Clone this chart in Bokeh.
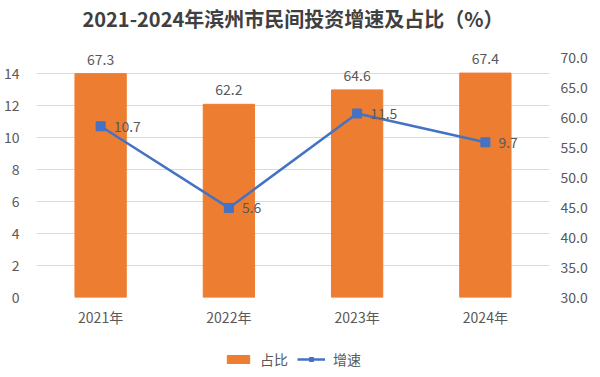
from bokeh.plotting import figure
from bokeh.layouts import column
from bokeh.models import (FactorRange, Range1d, LinearAxis, FixedTicker,
                          NumeralTickFormatter, Legend, LegendItem, ColumnDataSource)
from bokeh.core.properties import value
from bokeh.embed import file_html
from bokeh.resources import INLINE

years = ["2021年", "2022年", "2023年", "2024年"]
share = [67.3, 62.2, 64.6, 67.4]      # 占比 (right axis)
growth = [10.7, 5.6, 11.5, 9.7]       # 增速 (left axis)
left_ticks = [0, 2, 4, 6, 8, 10, 12, 14]
right_ticks = [30, 35, 40, 45, 50, 55, 60, 65, 70]
title_text = "2021-2024年滨州市民间投资增速及占比（%）"
legend_labels = ["占比", "增速"]

ORANGE = "#ED7D31"
BLUE = "#4472C4"
TXT = "#595959"
CJK = "Noto Sans CJK SC"

AXIS_PX = 240
FRAME_H = 263
left_top = 15 * FRAME_H / AXIS_PX
right_top = right_ticks[0] + (right_ticks[-1] - right_ticks[0]) * FRAME_H / AXIS_PX

src = ColumnDataSource(dict(
    x=years, share=share, growth=growth,
    share_lbl=[f"{v:.1f}" for v in share],
    growth_lbl=[f"{v:.1f}" for v in growth],
))

p = figure(x_range=FactorRange(*years), y_range=Range1d(0, left_top),
           frame_width=513, frame_height=FRAME_H,
           output_backend="svg", toolbar_location=None,
           min_border_left=27, min_border_right=37, min_border_top=27,
           min_border_bottom=42)
p.extra_y_ranges = {"right": Range1d(right_ticks[0], right_top)}
p.outline_line_color = None

p.yaxis.ticker = FixedTicker(ticks=left_ticks)
ra = LinearAxis(y_range_name="right", ticker=FixedTicker(ticks=right_ticks),
                formatter=NumeralTickFormatter(format="0.0"))
p.add_layout(ra, "right")
for ax in [p.yaxis[0], ra, p.xaxis[0]]:
    ax.axis_line_color = None
    ax.major_tick_line_color = None
    ax.minor_tick_line_color = None
    ax.major_tick_out = 0
    ax.major_label_text_color = TXT
    ax.major_label_text_font_size = "14px"
    ax.major_label_text_font = CJK
p.yaxis[0].major_label_standoff = 17
ra.major_label_standoff = 11
p.xaxis[0].major_label_standoff = 9

p.xgrid.grid_line_color = None
p.ygrid.ticker = FixedTicker(ticks=left_ticks)
p.ygrid.grid_line_color = "#d9d9d9"
p.ygrid.grid_line_width = 1

bars = p.vbar(x="x", top="share", bottom=right_ticks[0], width=0.4, source=src,
              y_range_name="right", fill_color=ORANGE, line_color=ORANGE)
p.text(x="x", y="share", text="share_lbl", source=src, y_range_name="right",
       y_offset=-9, text_align="center", text_baseline="bottom",
       text_font=value(CJK), text_font_size="14px", text_color=TXT)

p.line(x="x", y="growth", source=src, line_color=BLUE, line_width=2.5)
p.scatter(x="x", y="growth", source=src, marker="square", size=9,
          fill_color=BLUE, line_color=BLUE)
p.text(x="x", y="growth", text="growth_lbl", source=src,
       x_offset=13, text_align="left", text_baseline="middle",
       text_font=value(CJK), text_font_size="14px", text_color=TXT)

p.title.text = title_text
p.title.align = "center"
p.title.text_font = CJK
p.title.text_font_size = "20px"
p.title.text_font_style = "bold"
p.title.text_color = "#404040"
p.title.standoff = 3

# legend strip (separate small figure so it is never clipped)
lg = figure(width=584, height=30, output_backend="svg", toolbar_location=None,
            x_range=Range1d(0, 1), y_range=Range1d(0, 1),
            min_border=0)
lg.axis.visible = False
lg.grid.visible = False
lg.outline_line_color = None
offscreen = ColumnDataSource(dict(x=[-10.0], y=[-10.0]))
r1 = lg.vbar(x="x", top="y", bottom=-11.0, width=0.1, source=offscreen,
             fill_color=ORANGE, line_color=ORANGE)
r2 = lg.line(x="x", y="y", source=offscreen, line_color=BLUE, line_width=2.5)
r3 = lg.scatter(x="x", y="y", source=offscreen, marker="square", size=8,
                fill_color=BLUE, line_color=BLUE)
legend = Legend(items=[LegendItem(label=legend_labels[0], renderers=[r1]),
                       LegendItem(label=legend_labels[1], renderers=[r2, r3])],
                orientation="horizontal", location=(188, 0),
                border_line_color=None, background_fill_alpha=0,
                label_text_font=CJK, label_text_font_size="14px",
                label_text_color=TXT, glyph_width=28, glyph_height=10,
                spacing=9, label_standoff=8, margin=0, padding=4)
lg.add_layout(legend, "center")

layout = column(p, lg, spacing=0)
open("out.html", "w").write(file_html(layout, INLINE))
